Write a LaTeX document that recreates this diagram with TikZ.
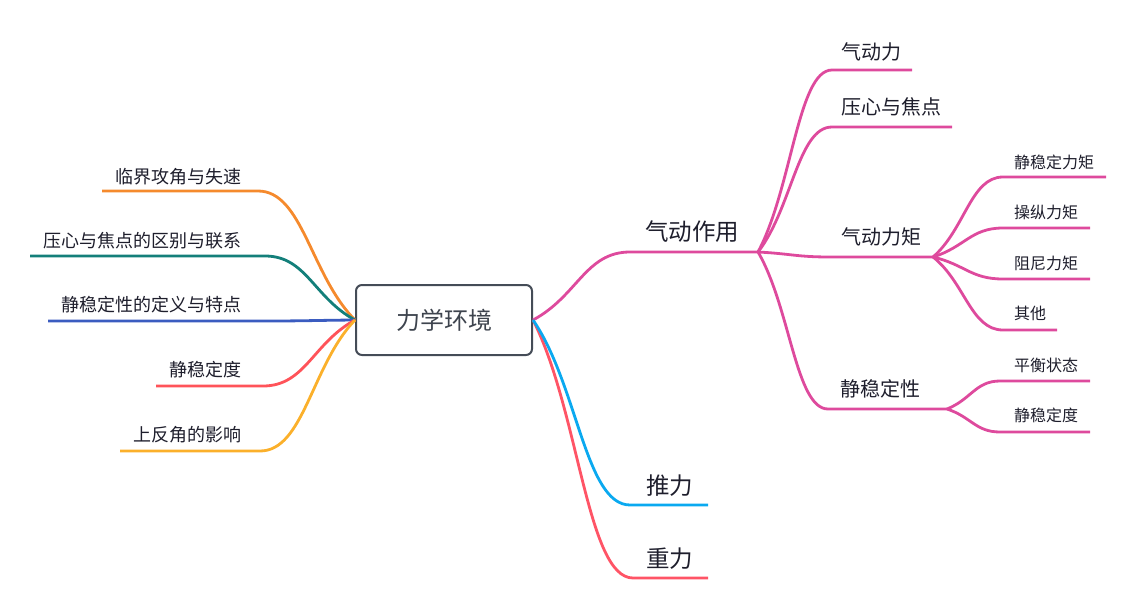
\documentclass[tikz,border=0pt]{standalone}
\usepackage{fontspec}
\setmainfont{Noto Sans CJK SC}
\usetikzlibrary{calc}
\definecolor{cpink}{HTML}{DE4A9D}
\definecolor{corange}{HTML}{F58A2D}
\definecolor{cteal}{HTML}{137F7A}
\definecolor{cblue}{HTML}{3B5CC0}
\definecolor{cred}{HTML}{FF5359}
\definecolor{cyellow}{HTML}{FBB02B}
\definecolor{ccyan}{HTML}{0AA9F0}
\definecolor{cred2}{HTML}{FF5466}
\definecolor{ctext}{HTML}{1E1E2C}
\definecolor{cbox}{HTML}{454C57}
\tikzset{
  branch/.style={to path={let \p1=(\tikztostart), \p2=(\tikztotarget) in
     .. controls ({\x1+0.46*(\x2-\x1)},{\y1+0.35*(\y2-\y1)}) and ({\x2-0.46*(\x2-\x1)},\y2) .. (\tikztotarget)}},
  conn/.style={line width=2.8pt},
  lbl/.style={inner sep=0pt, text=ctext, font=\fontsize{18}{20}\selectfont},
  lone/.style={inner sep=0pt, text=ctext, font=\fontsize{23.5}{26}\selectfont, anchor=west},
  ltwo/.style={inner sep=0pt, text=ctext, font=\fontsize{20}{22}\selectfont, anchor=west},
  lthree/.style={inner sep=0pt, text=ctext, font=\fontsize{16}{18}\selectfont, anchor=west},
  lleft/.style={lbl, anchor=east},
}
\begin{document}
\begin{tikzpicture}[x=1pt,y=-1pt]
\useasboundingbox (0,0) rectangle (1134,610);
% root
\node[draw=cbox, line width=2pt, rounded corners=6pt, minimum width=176pt, minimum height=70pt,
      text=cbox!90!black, font=\fontsize{24}{26}\selectfont, inner sep=0pt] (root) at (444,320) {力学环境};

% ---------- left side ----------
\coordinate (l1s) at (258,191); \coordinate (l1e) at (102,191);
\coordinate (l2s) at (265,256); \coordinate (l2e) at (30,256);
\coordinate (l3s) at (265,321); \coordinate (l3e) at (48,321);
\coordinate (l4s) at (263,386); \coordinate (l4e) at (156,386);
\coordinate (l5s) at (260,451); \coordinate (l5e) at (120,451);
\draw[conn, corange] (root.west) to[branch] (l1s) -- (l1e);
\draw[conn, cteal] (root.west) to[branch] (l2s) -- (l2e);
\draw[conn, cblue] (root.west) to[branch] (l3s) -- (l3e);
\draw[conn, cred] (root.west) to[branch] (l4s) -- (l4e);
\draw[conn, cyellow] (root.west) to[branch] (l5s) -- (l5e);
\node[lleft] (tl1) at (242,177) {临界攻角与失速};
\node[lleft] (tl2) at (242,241) {压心与焦点的区别与联系};
\node[lleft] (tl3) at (242,305) {静稳定性的定义与特点};
\node[lleft] (tl4) at (242,370) {静稳定度};
\node[lleft] (tl5) at (242,435) {上反角的影响};

% ---------- right side ----------
\coordinate (as) at (630,252); \coordinate (ae) at (758,252);
\coordinate (ts) at (630,505); \coordinate (te) at (708,505);
\coordinate (gs) at (633,578); \coordinate (ge) at (708,578);
\draw[conn, cpink] (root.east) to[branch] (as) -- (ae);
\draw[conn, cred2] (root.east) to[branch] (gs) -- (ge);
\draw[conn, ccyan] (root.east) to[branch] (ts) -- (te);
\node[lone] (ta) at (645,232) {气动作用};
\node[lone] (tt) at (646,486) {推力};
\node[lone] (tg) at (646,559) {重力};

% level 2 under 气动作用
\coordinate (b1s) at (832,70);  \coordinate (b1e) at (912,70);
\coordinate (b2s) at (832,127); \coordinate (b2e) at (952,127);
\coordinate (b3s) at (830,257); \coordinate (b3e) at (933,257);
\coordinate (b4s) at (828,409); \coordinate (b4e) at (947,409);
\draw[conn, cpink] (ae) to[branch] (b1s) -- (b1e);
\draw[conn, cpink] (ae) to[branch] (b2s) -- (b2e);
\draw[conn, cpink] (ae) to[branch] (b3s) -- (b3e);
\draw[conn, cpink] (ae) to[branch] (b4s) -- (b4e);
\node[ltwo] (tb1) at (841,52) {气动力};
\node[ltwo] (tb2) at (841,107) {压心与焦点};
\node[ltwo] (tb3) at (841,237) {气动力矩};
\node[ltwo] (tb4) at (840,389) {静稳定性};

% level 3 under 气动力矩
\coordinate (c1s) at (1003,177); \coordinate (c1e) at (1106,177);
\coordinate (c2s) at (1003,228); \coordinate (c2e) at (1090,228);
\coordinate (c3s) at (1003,279); \coordinate (c3e) at (1090,279);
\coordinate (c4s) at (1003,330); \coordinate (c4e) at (1057,330);
\draw[conn, cpink] (b3e) to[branch] (c1s) -- (c1e);
\draw[conn, cpink] (b3e) to[branch] (c2s) -- (c2e);
\draw[conn, cpink] (b3e) to[branch] (c3s) -- (c3e);
\draw[conn, cpink] (b3e) to[branch] (c4s) -- (c4e);
\node[lthree] (tc1) at (1014,162) {静稳定力矩};
\node[lthree] (tc2) at (1014,212) {操纵力矩};
\node[lthree] (tc3) at (1014,263) {阻尼力矩};
\node[lthree] (tc4) at (1014,313) {其他};

% level 3 under 静稳定性
\coordinate (d1s) at (1000,381); \coordinate (d1e) at (1090,381);
\coordinate (d2s) at (1000,432); \coordinate (d2e) at (1090,432);
\draw[conn, cpink] (b4e) to[branch] (d1s) -- (d1e);
\draw[conn, cpink] (b4e) to[branch] (d2s) -- (d2e);
\node[lthree] (td1) at (1014,365) {平衡状态};
\node[lthree] (td2) at (1014,415) {静稳定度};
\end{tikzpicture}
\end{document}
